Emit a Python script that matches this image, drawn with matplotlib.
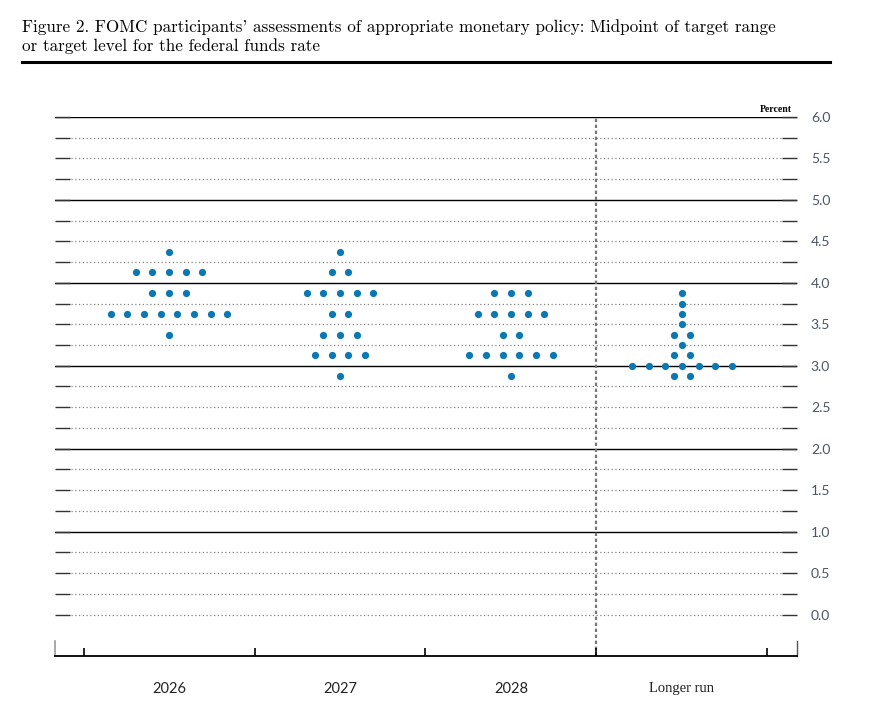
import matplotlib
matplotlib.use('Agg')
import matplotlib.pyplot as plt
from matplotlib.ticker import FixedLocator, NullFormatter

# FOMC dot plot: midpoint rates and number of participants at each rate
columns = ['2026', '2027', '2028', 'Longer run']

rates_2026 = [4.375, 4.125, 3.875, 3.625, 3.375]
counts_2026 = [1, 5, 3, 8, 1]

rates_2027 = [4.375, 4.125, 3.875, 3.625, 3.375, 3.125, 2.875]
counts_2027 = [1, 2, 5, 2, 3, 4, 1]

rates_2028 = [3.875, 3.625, 3.375, 3.125, 2.875]
counts_2028 = [3, 5, 2, 6, 1]

rates_lr = [3.875, 3.75, 3.625, 3.5, 3.375, 3.25, 3.125, 3.0, 2.875]
counts_lr = [1, 1, 1, 1, 2, 1, 2, 7, 2]

all_rates = [rates_2026, rates_2027, rates_2028, rates_lr]
all_counts = [counts_2026, counts_2027, counts_2028, counts_lr]

DOT = '#0b78b2'
spacing = 0.0975

fig = plt.figure(figsize=(8.87, 7.22), dpi=100)

# title (two lines, serif)
tfont = dict(family=['cmr10', 'DejaVu Serif'], fontsize=12.3, va='baseline', ha='left')
fig.text(0.025, 0.9557, "Figure 2. FOMC participants' assessments of appropriate monetary policy: "
         "Midpoint of target range", **tfont)
fig.text(0.025, 0.9294, "or target level for the federal funds rate", **tfont)
fig.add_artist(plt.Line2D([0.025, 0.936], [0.914, 0.914], color='black', lw=2.2))

ax = fig.add_axes([0.062, 0.0914, 0.8365, 0.7466])
ax.set_xlim(-0.667, 3.673)
ax.set_ylim(-0.5, 6.0)

# horizontal grid: solid at whole percents, dotted elsewhere
for k in range(25):
    y = k * 0.25
    if k % 4 == 0 and k > 0:
        ax.axhline(y, color='black', lw=1.0, zorder=1)
    else:
        ax.hlines(y, -0.575, 3.585, colors='#808080', linestyles=(0, (1, 2)), lw=0.9, zorder=1)

# separator before longer run
ax.axvline(2.5, color='#777777', linestyle=(0, (1.5, 1.2)), lw=1.6, zorder=1)

# dots
for ci, (rates, counts) in enumerate(zip(all_rates, all_counts)):
    xs, ys = [], []
    for r, n in zip(rates, counts):
        for i in range(n):
            xs.append(ci + (i - (n - 1) / 2) * spacing)
            ys.append(r)
    ax.scatter(xs, ys, s=27, color=DOT, zorder=3, linewidths=0)

# spines
for side in ['left', 'right', 'top']:
    ax.spines[side].set_visible(False)
ax.spines['bottom'].set_linewidth(1.3)
ax.axvline(-0.667, ymin=0, ymax=0.027, color='#999999', lw=1.2, clip_on=False)
ax.axvline(3.673, ymin=0, ymax=0.027, color='#555555', lw=1.0, clip_on=False)

# y ticks (right labels)
ax.yaxis.set_major_locator(FixedLocator([k * 0.5 for k in range(13)]))
ax.yaxis.set_minor_locator(FixedLocator([k * 0.5 + 0.25 for k in range(12)]))
ax.tick_params(axis='y', which='both', direction='in', length=10.5, width=1.0,
               color='#333333', left=True, right=True, labelleft=False, labelright=True,
               pad=10)
ax.yaxis.set_major_formatter(matplotlib.ticker.FormatStrFormatter('%.1f'))
for lab in ax.get_yticklabels():
    lab.set_family('Lato')
    lab.set_fontsize(10)
    lab.set_color('#4a5566')

# x ticks
ax.xaxis.set_major_locator(FixedLocator([-0.5, 0.5, 1.5, 2.5, 3.5]))
ax.xaxis.set_major_formatter(NullFormatter())
ax.xaxis.set_minor_locator(FixedLocator([0, 1, 2, 3]))
ax.xaxis.set_minor_formatter(matplotlib.ticker.FixedFormatter(columns))
ax.tick_params(axis='x', which='major', direction='in', length=6, width=1.2, color='black')
ax.tick_params(axis='x', which='minor', length=0, pad=19)
for i, lab in enumerate(ax.get_xticklabels(minor=True)):
    lab.set_fontsize(10.5)
    lab.set_color('#222222')
    lab.set_family('Liberation Serif' if i == 3 else 'Lato')

ax.text(0.993, 1.006, 'Percent', transform=ax.transAxes, ha='right', va='bottom',
        family='Liberation Serif', fontsize=7, fontweight='bold')

fig.savefig('out.png', dpi=100)
